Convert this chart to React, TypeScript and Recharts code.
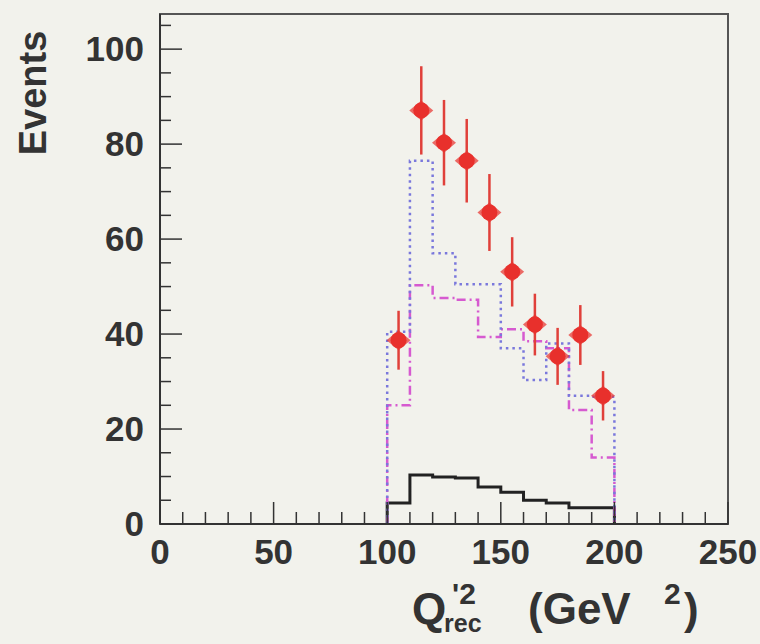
import {
    ComposedChart,
    Line,
    Scatter,
    ErrorBar,
    XAxis,
    YAxis,
    ReferenceArea,
} from 'recharts';

// histogram binning (GeV^2)
const binEdges = [100, 110, 120, 130, 140, 150, 160, 170, 180, 190, 200];
const binCentres = [105, 115, 125, 135, 145, 155, 165, 175, 185, 195];

// measured events and their errors
const dataEvents = [38.7, 87.1, 80.3, 76.5, 65.6, 53.1, 42.0, 35.3, 39.8, 27.0];
const dataErrors = [6.2, 9.3, 9.0, 8.8, 8.1, 7.3, 6.5, 6.0, 6.3, 5.2];

// model expectations per bin
const dottedModel = [40.5, 76.5, 57.0, 50.5, 50.5, 37.0, 30.3, 38.0, 27.0, 26.8];
const dashDotModel = [25.0, 50.3, 47.6, 47.2, 39.4, 41.0, 38.5, 37.0, 24.0, 14.0];
const solidModel = [4.4, 10.3, 9.9, 9.7, 7.8, 6.7, 5.0, 4.4, 3.4, 3.4];

const xTicks = [0, 10, 20, 30, 40, 50, 60, 70, 80, 90, 100, 110, 120, 130, 140, 150, 160, 170, 180, 190, 200, 210, 220, 230, 240, 250];
const xLabelled = [0, 50, 100, 150, 200, 250];
const yTicks = [0, 5, 10, 15, 20, 25, 30, 35, 40, 45, 50, 55, 60, 65, 70, 75, 80, 85, 90, 95, 100, 105];
const yLabelled = [0, 20, 40, 60, 80, 100];
const yMax = 107.4;

const toSteps = (values: number[]) => {
    const rows = [{ x: binEdges[0], y: 0 }];
    values.forEach((v, i) => rows.push({ x: binEdges[i], y: v }));
    rows.push({ x: binEdges[binEdges.length - 1], y: values[values.length - 1] });
    rows.push({ x: binEdges[binEdges.length - 1], y: 0 });
    return rows;
};

const points = binCentres.map((x, i) => ({ x, y: dataEvents[i], err: dataErrors[i] }));

const FONT = '"Liberation Sans", Arial, sans-serif';
const INK = '#333';

const XTick = ({ x, y, payload }: any) => {
    const major = xLabelled.includes(payload.value);
    return (
        <g>
            <line x1={x} y1={y} x2={x} y2={y - (major ? 22 : 12)} stroke={INK} strokeWidth={1.5} />
            {major && (
                <text x={x} y={y + 40} textAnchor="middle" fontFamily={FONT} fontWeight="bold" fontSize={35} fill={INK}>
                    {payload.value}
                </text>
            )}
        </g>
    );
};

const YTick = ({ x, y, payload }: any) => {
    const major = yLabelled.includes(payload.value);
    return (
        <g>
            <line x1={x} y1={y} x2={x + (major ? 22 : 11)} y2={y} stroke={INK} strokeWidth={1.5} />
            {major && (
                <text x={x - 16} y={y + 12} textAnchor="end" fontFamily={FONT} fontWeight="bold" fontSize={35} fill={INK}>
                    {payload.value}
                </text>
            )}
        </g>
    );
};

const Marker = ({ cx, cy }: any) => (
    <g>
        <circle cx={cx} cy={cy} r={8} fill="#e8302c" />
        <polygon
            points={`${cx - 12},${cy} ${cx},${cy - 10} ${cx + 12},${cy} ${cx},${cy + 10}`}
            fill="#e8302c"
            opacity={0.7}
        />
    </g>
);

export default function App() {
    return (
        <div style={{ position: 'absolute', left: 0, top: 0, width: 760, height: 644, background: '#f2f2ec' }}>
            <ComposedChart width={760} height={644} margin={{ top: 14, right: 32, left: 0, bottom: 0 }}>
                <XAxis
                    dataKey="x"
                    type="number"
                    domain={[0, 250]}
                    ticks={xTicks}
                    interval={0}
                    height={120}
                    tickSize={0}
                    tickMargin={0}
                    tickLine={false}
                    tick={<XTick />}
                    axisLine={{ stroke: INK, strokeWidth: 2 }}
                />
                <YAxis
                    type="number"
                    domain={[0, yMax]}
                    allowDataOverflow
                    ticks={yTicks}
                    interval={0}
                    width={160}
                    tickSize={0}
                    tickMargin={0}
                    tickLine={false}
                    tick={<YTick />}
                    axisLine={{ stroke: INK, strokeWidth: 2 }}
                />
                <ReferenceArea x1={0} x2={250} y1={0} y2={yMax} fill="none" stroke="#555" strokeWidth={2} ifOverflow="extendDomain" />
                <Line
                    data={toSteps(solidModel)}
                    dataKey="y"
                    type="stepAfter"
                    stroke="#222"
                    strokeWidth={3}
                    dot={false}
                    isAnimationActive={false}
                />
                <Line
                    data={toSteps(dashDotModel)}
                    dataKey="y"
                    type="stepAfter"
                    stroke="#d65ad0"
                    strokeWidth={2.5}
                    strokeDasharray="9 4 2 4"
                    dot={false}
                    isAnimationActive={false}
                />
                <Line
                    data={toSteps(dottedModel)}
                    dataKey="y"
                    type="stepAfter"
                    stroke="#7a78dc"
                    strokeWidth={2.5}
                    strokeDasharray="2.5 4"
                    dot={false}
                    isAnimationActive={false}
                />
                <Scatter data={points} dataKey="y" shape={<Marker />} isAnimationActive={false}>
                    <ErrorBar dataKey="err" direction="y" width={0} stroke="#e0403a" strokeWidth={2.5} isAnimationActive={false} />
                </Scatter>
            </ComposedChart>
            <svg width={760} height={644} style={{ position: 'absolute', left: 0, top: 0, pointerEvents: 'none' }}>
                <text
                    transform="translate(46 93) rotate(-90)"
                    textAnchor="middle"
                    fontFamily={FONT}
                    fontWeight="bold"
                    fontSize={38}
                    fill={INK}
                >
                    Events
                </text>
                <text fontFamily={FONT} fontWeight="bold" fill={INK}>
                    <tspan x={412} y={624} fontSize={44}>Q</tspan>
                    <tspan x={452} y={604} fontSize={30}>'2</tspan>
                    <tspan x={444} y={632} fontSize={25}>rec</tspan>
                    <tspan x={528} y={624} fontSize={44}>(GeV</tspan>
                    <tspan x={664} y={604} fontSize={30}>2</tspan>
                    <tspan x={684} y={624} fontSize={44}>)</tspan>
                </text>
            </svg>
        </div>
    );
}
